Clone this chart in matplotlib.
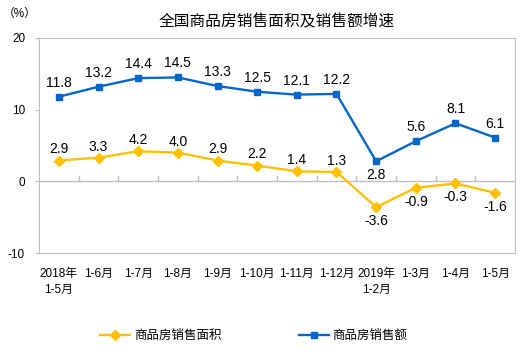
import numpy as np
import matplotlib.pyplot as plt

plt.rcParams['font.family'] = ['Liberation Sans', 'Noto Sans CJK SC', 'DejaVu Sans']

# 数据
categories = ['2018年\n1-5月', '1-6月', '1-7月', '1-8月', '1-9月', '1-10月',
              '1-11月', '1-12月', '2019年\n1-2月', '1-3月', '1-4月', '1-5月']
area = [2.9, 3.3, 4.2, 4.0, 2.9, 2.2, 1.4, 1.3, -3.6, -0.9, -0.3, -1.6]
sales = [11.8, 13.2, 14.4, 14.5, 13.3, 12.5, 12.1, 12.2, 2.8, 5.6, 8.1, 6.1]
yticks = [-10, 0, 10, 20]

cor_area = '#FFC000'
cor_sales = '#0566C8'
cinza = '#BFBFBF'

fig = plt.figure(figsize=(5.22, 3.52), dpi=100)
ax = fig.add_axes([39/522, 1-253/352, 476/522, 215/352])

x = np.arange(len(categories))
ax.plot(x, area, color=cor_area, lw=1.7, marker='D', ms=5, label='商品房销售面积')
ax.plot(x, sales, color=cor_sales, lw=1.7, marker='s', ms=5, label='商品房销售额')

# rótulos dos valores
for i, v in enumerate(sales):
    if i == 8:
        ax.annotate(f'{v:.1f}', (i, v), xytext=(0, -5), textcoords='offset points',
                    ha='center', va='top', fontsize=10)
    else:
        ax.annotate(f'{v:.1f}', (i, v), xytext=(0, 5), textcoords='offset points',
                    ha='center', va='bottom', fontsize=10)
for i, v in enumerate(area):
    if v < 0:
        ax.annotate(f'{v:.1f}', (i, v), xytext=(0, -5), textcoords='offset points',
                    ha='center', va='top', fontsize=10)
    else:
        ax.annotate(f'{v:.1f}', (i, v), xytext=(0, 3), textcoords='offset points',
                    ha='center', va='bottom', fontsize=10)

ax.set_xlim(-0.5, len(categories) - 0.5)
ax.set_ylim(-10, 20)
ax.set_yticks(yticks)
ax.set_yticklabels([str(t) for t in yticks], fontsize=8.5)
ax.tick_params(axis='y', length=3, color=cinza, pad=7)

# eixo x na linha do zero, marcas entre categorias
ax.axhline(0, color=cinza, lw=1, zorder=1)
ax.set_xticks(x)
ax.set_xticklabels(categories, fontsize=8.5, va='top', linespacing=1.4)
ax.tick_params(axis='x', length=0, pad=11)
for b in np.arange(0.5, len(categories) - 1, 1):
    ax.plot([b, b], [0, 0.8], color=cinza, lw=1, zorder=1)

for s in ax.spines.values():
    s.set_color(cinza)

fig.text(277/522, 1-22/352, '全国商品房销售面积及销售额增速', ha='center', va='center', fontsize=11.3)
fig.text(3/522, 1-14/352, '（%）', ha='left', va='center', fontsize=8.5)

fig.legend(loc='center left', bbox_to_anchor=(100/522, 1-336/352), ncol=2, frameon=False,
           fontsize=9, columnspacing=6.2, handlelength=2.4, handletextpad=0.3,
           borderpad=0, borderaxespad=0)

plt.savefig('out.png', dpi=100)
